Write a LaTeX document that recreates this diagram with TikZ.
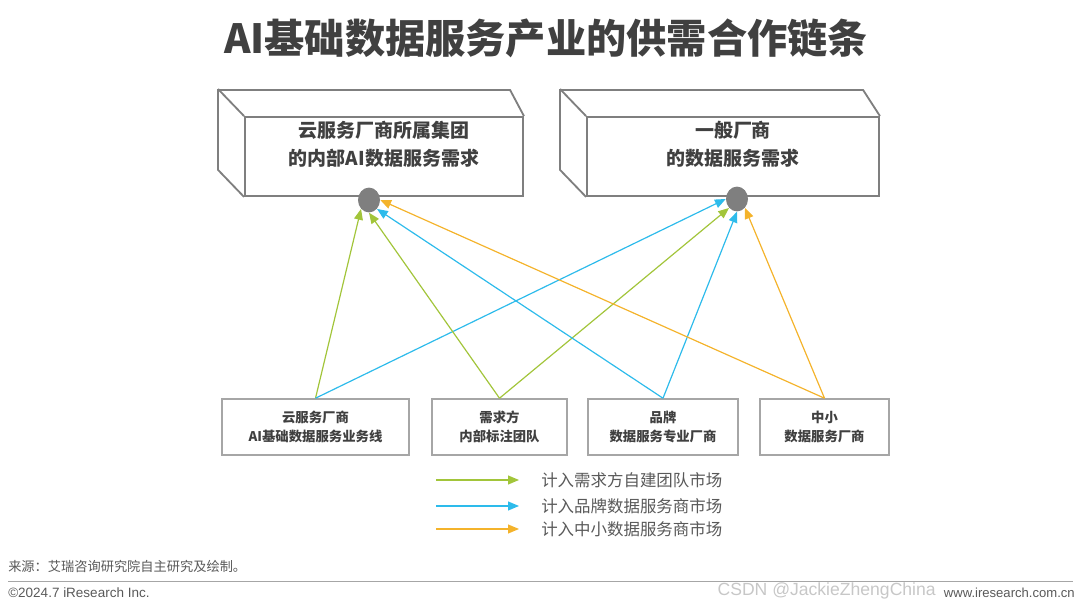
\documentclass[tikz,border=0pt]{standalone}
\usepackage{fontspec}
\setmainfont{Noto Sans CJK SC}
\newfontfamily\arialfont{Liberation Sans}
\usetikzlibrary{arrows.meta,shapes.geometric,calc}
\definecolor{ink}{HTML}{404040}
\definecolor{slate}{HTML}{7F7F7F}
\definecolor{frame}{HTML}{A6A6A6}
\definecolor{muted}{HTML}{595959}
\definecolor{chartgreen}{HTML}{A2C53A}
\definecolor{chartblue}{HTML}{2DBBEB}
\definecolor{chartorange}{HTML}{F4B32B}
\tikzset{
  face/.style={rectangle,draw=slate,line width=1.3pt,minimum height=1.975cm,inner sep=0pt},
  boxline/.style={draw=slate,line width=1.3pt},
  facetext/.style={font=\fontsize{13.5}{20}\selectfont\bfseries,text=ink,align=center},
  hub/.style={ellipse,fill=slate,minimum width=0.55cm,minimum height=0.62cm,inner sep=0pt},
  supplier/.style={rectangle,draw=frame,line width=1.1pt,fill=white,minimum height=1.4cm,align=center,font=\fontsize{9.5}{13.5}\selectfont\bfseries,text=ink},
  flow/.style={-{Triangle[length=2.7mm,width=2.2mm]},line width=0.85pt},
  selfflow/.style={flow,chartgreen},
  brandflow/.style={flow,chartblue},
  smallflow/.style={flow,chartorange},
  keytext/.style={anchor=west,inner sep=0pt,font=\fontsize{11.7}{14}\selectfont,text=muted},
  keyarrow/.style={shorten >=0.55cm},
  footnote/.style={anchor=west,inner sep=0pt,text=muted}
}
\begin{document}
\begin{tikzpicture}[x=0.025cm,y=-0.025cm]
  \useasboundingbox (0,0) rectangle (1080,609);
  \node[font=\fontsize{28.6}{32}\selectfont\bfseries,text=ink] (title) at (546,38) {AI基础数据服务产业的供需合作链条};
  \node[face,minimum width=6.95cm] (cloud) at (384,156.5) {};
  \node[face,minimum width=7.3cm] (general) at (733,156.5) {};
  \draw[boxline] (cloud.south west) -- ++(-26,-27) -- ++(0,-80) -- ++(292,0) -- (cloud.north east) (cloud.north west) -- ++(-26,-27);
  \draw[boxline] (general.south west) -- ++(-26,-27) -- ++(0,-80) -- ++(303,0) -- (general.north east) (general.north west) -- ++(-26,-27);
  \node[facetext] (cloudtext) at (384,144) {云服务厂商所属集团\\的内部AI数据服务需求};
  \node[facetext] (generaltext) at (733,144) {一般厂商\\的数据服务需求};
  \node[hub] (cloudhub) at (369,200) {};
  \node[hub] (genhub) at (737,199) {};
  \node[supplier,minimum width=4.675cm] (cvendor) at (315.5,427) {云服务厂商\\AI基础数据服务业务线};
  \node[supplier,minimum width=3.375cm] (inhouse) at (499.5,427) {需求方\\内部标注团队};
  \node[supplier,minimum width=3.75cm] (brand) at (663,427) {品牌\\数据服务专业厂商};
  \node[supplier,minimum width=3.225cm] (small) at (824.5,427) {中小\\数据服务厂商};
  \draw[selfflow] (cvendor.north) -- (cloudhub.south west); \draw[brandflow] (cvendor.north) -- (genhub.west);
  \draw[selfflow] (inhouse.north) -- (cloudhub.south); \draw[selfflow] (inhouse.north) -- (genhub.south west);
  \draw[brandflow] (brand.north) -- (cloudhub.south east); \draw[brandflow] (brand.north) -- (genhub.south);
  \draw[smallflow] (small.north) -- (cloudhub.east); \draw[smallflow] (small.north) -- (genhub.south east);
  \coordinate (keyself) at (436,480);
  \coordinate (keybrand) at (436,506);
  \coordinate (keysmall) at (436,529);
  \node[keytext] (keyselftext) at (541,480) {计入需求方自建团队市场};
  \node[keytext] (keybrandtext) at (541,506) {计入品牌数据服务商市场};
  \node[keytext] (keysmalltext) at (541,529) {计入中小数据服务商市场};
  \draw[selfflow,keyarrow] (keyself) -- (keyselftext.west);
  \draw[brandflow,keyarrow] (keybrand) -- (keybrandtext.west);
  \draw[smallflow,keyarrow] (keysmall) -- (keysmalltext.west);
  \node[footnote,font=\fontsize{9.4}{11}\selectfont] (source) at (8,566) {来源：艾瑞咨询研究院自主研究及绘制。};
  \draw[frame,line width=0.7pt] (8,581) -- (1073,581);
  \node[footnote,font=\arialfont\fontsize{9.6}{11}\selectfont] (copyright) at (8,593) {©2024.7 iResearch Inc.};
  \node[anchor=east,inner sep=0pt,font=\arialfont\fontsize{12.5}{15}\selectfont,text=black!22] (mark) at (936,591) {CSDN @JackieZhengChina};
  \node[anchor=east,inner sep=0pt,font=\arialfont\fontsize{9.3}{11}\selectfont,text=muted] (site) at (1075,593) {www.iresearch.com.cn};
\end{tikzpicture}
\end{document}
